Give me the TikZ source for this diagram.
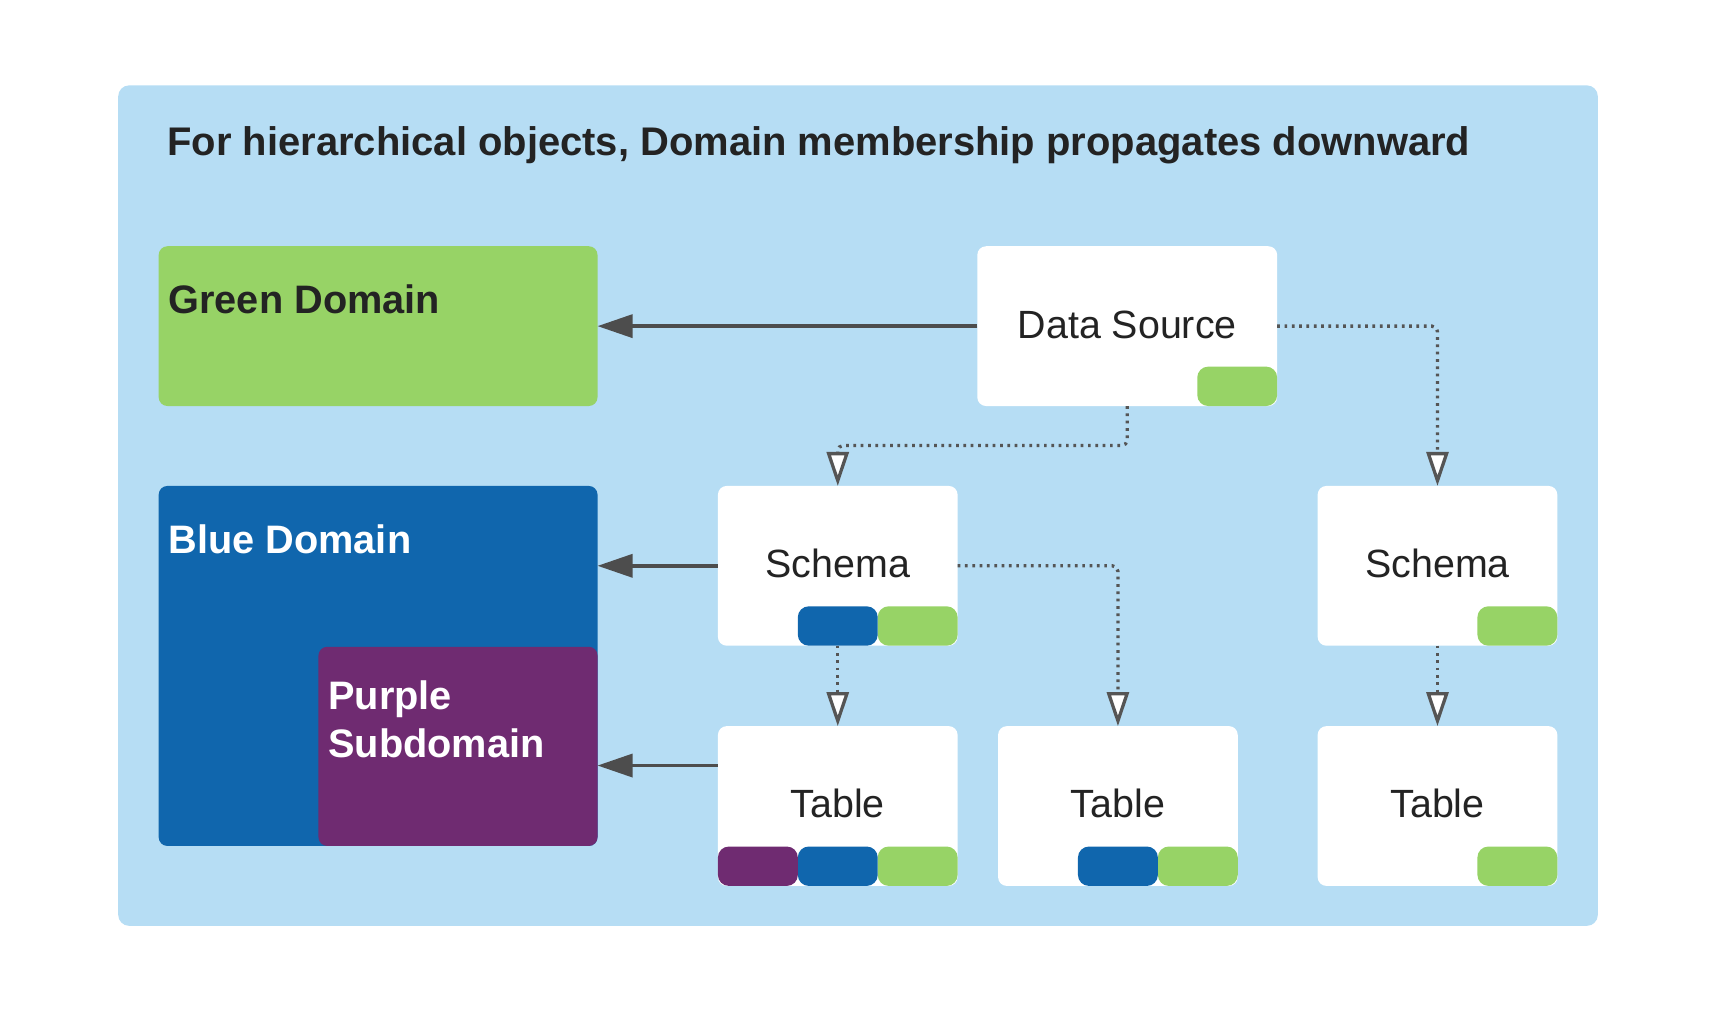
\documentclass[tikz,border=0pt]{standalone}
\usepackage{fontspec}
\setmainfont{Liberation Sans}
\usetikzlibrary{arrows.meta,calc}
\definecolor{panelblue}{HTML}{B6DDF4}
\definecolor{dgreen}{HTML}{97D366}
\definecolor{dblue}{HTML}{1066AD}
\definecolor{dpurple}{HTML}{6F2B71}
\definecolor{arrowgray}{HTML}{4D4D4D}
\definecolor{dotgray}{HTML}{555555}
\definecolor{txt}{HTML}{232323}
\begin{document}
\begin{tikzpicture}[x=1pt,y=-1pt,
  every node/.style={inner sep=0pt,outer sep=0pt},
  bigtext/.style={font=\fontsize{36}{44}\selectfont},
  domainlabel/.style={font=\fontsize{36.3}{44}\selectfont\bfseries,anchor=base west,align=left},
  objbox/.style={fill=white,rounded corners=8pt,minimum width=219pt,minimum height=146pt},
  tagbox/.style={fill=#1,rounded corners=10pt,minimum width=73pt,minimum height=36pt,anchor=south east},
  ownarrow/.style={draw=arrowgray,line width=3.2pt,-{Triangle[length=32pt,width=21pt]},fill=arrowgray},
  inheritarrow/.style={draw=dotgray,line width=3pt,dash pattern=on 2.5pt off 4.2pt,rounded corners=5pt,
    -{Triangle[open,length=31pt,width=20pt,line width=3pt,fill=white]}}
]
\useasboundingbox (0,0) rectangle (1568,924.7);
% panel
\fill[panelblue,rounded corners=10pt] (108,78) rectangle (1460,846);
\node[font=\fontsize{36.5}{44}\selectfont\bfseries,text=txt,anchor=base west] (title) at (153,142)
  {For hierarchical objects, Domain membership propagates downward};

% domains
\node[fill=dgreen,rounded corners=8pt,minimum width=401pt,minimum height=146pt] (green) at (345.5,298) {};
\node[domainlabel,text=txt] (greenlbl) at (154,286) {Green Domain};
\node[fill=dblue,rounded corners=8pt,minimum width=401pt,minimum height=329pt] (blue) at (345.5,608.5) {};
\node[domainlabel,text=white] (bluelbl) at (154,506) {Blue Domain};
\node[fill=dpurple,rounded corners=8pt,minimum width=255pt,minimum height=182pt] (purple) at (418.5,682) {};
\node[domainlabel,text=white] (purplelbl) at (300,692) {Purple\\Subdomain};

% objects
\node[objbox,minimum width=274pt] (ds) at (1030,298) {};
\node[bigtext,text=txt,anchor=base] (dstxt) at (1030,309) {Data Source};
\node[tagbox=dgreen] (dsg) at (ds.south east) {};

\node[objbox] (s1) at (765.5,517) {};
\node[bigtext,text=txt,anchor=base] (s1txt) at (765.5,528) {Schema};
\node[tagbox=dgreen] (s1g) at (s1.south east) {};
\node[tagbox=dblue] (s1b) at (s1g.south west) {};

\node[objbox] (s2) at (1313.5,517) {};
\node[bigtext,text=txt,anchor=base] (s2txt) at (1313.5,528) {Schema};
\node[tagbox=dgreen] (s2g) at (s2.south east) {};

\node[objbox] (t1) at (765.5,736.5) {};
\node[bigtext,text=txt,anchor=base] (t1txt) at (765.5,747) {Table};
\node[tagbox=dgreen] (t1g) at (t1.south east) {};
\node[tagbox=dblue] (t1b) at (t1g.south west) {};
\node[tagbox=dpurple] (t1p) at (t1b.south west) {};

\node[objbox] (t2) at (1021.5,736.5) {};
\node[bigtext,text=txt,anchor=base] (t2txt) at (1021.5,747) {Table};
\node[tagbox=dgreen] (t2g) at (t2.south east) {};
\node[tagbox=dblue] (t2b) at (t2g.south west) {};

\node[objbox] (t3) at (1313.5,736.5) {};
\node[bigtext,text=txt,anchor=base] (t3txt) at (1313.5,747) {Table};
\node[tagbox=dgreen] (t3g) at (t3.south east) {};

% membership arrows
\draw[ownarrow] (ds.west) -- (green.east |- ds.west);
\draw[ownarrow] (s1.west) -- (blue.east |- s1.west);
\coordinate (t1arr) at ($(t1.north west)+(0,36)$);
\draw[ownarrow] (t1arr) -- (purple.east |- t1arr);

% inheritance (dotted)
\coordinate (dsbend) at (ds.south |- 0,407);
\draw[inheritarrow] (ds.south) -- (dsbend) -- (s1.north |- dsbend) -- (s1.north);
\draw[inheritarrow] (ds.east) -- (s2.north |- ds.east) -- (s2.north);
\draw[inheritarrow] (s1.east) -- (t2.north |- s1.east) -- (t2.north);
\draw[inheritarrow] (s1.south) -- (t1.north);
\draw[inheritarrow] (s2.south) -- (t3.north);
\end{tikzpicture}
\end{document}
